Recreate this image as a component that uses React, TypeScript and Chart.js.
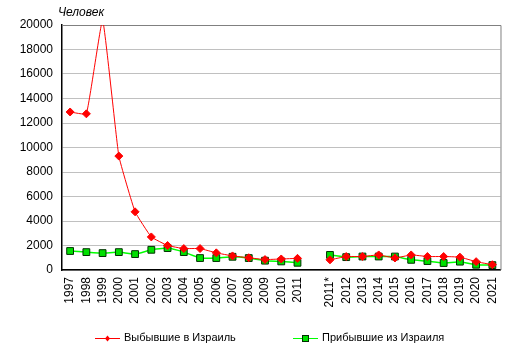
import React, { useEffect, useRef } from "react";
import { Chart, registerables } from "chart.js";

Chart.register(...registerables);

const categories = [
  "1997", "1998", "1999", "2000", "2001", "2002", "2003", "2004", "2005", "2006",
  "2007", "2008", "2009", "2010", "2011", "", "2011*", "2012", "2013", "2014",
  "2015", "2016", "2017", "2018", "2019", "2020", "2021",
];

const departedToIsrael = [
  12900, 12750, 20400, 9300, 4750, 2700, 2000, 1750, 1750, 1400,
  1150, 1000, 850, 900, 950, null, 830, 1100, 1100, 1230,
  980, 1230, 1100, 1100, 1050, 680, 430,
];

const arrivedFromIsrael = [
  1550, 1460, 1380, 1460, 1300, 1650, 1790, 1460, 975, 975,
  1080, 975, 760, 700, 590, null, 1230, 1050, 1100, 1100,
  1100, 830, 730, 570, 680, 430, 400,
];

const seriesNames = ["Выбывшие в Израиль", "Прибывшие из Израиля"];
const yTitle = "Человек";

const FONT = "'Liberation Sans', Arial, sans-serif";

const decorPlugin = {
  id: "decor",
  beforeDatasetsDraw(chart: any) {
    const { ctx, chartArea } = chart;
    ctx.save();
    ctx.strokeStyle = "#808080";
    ctx.lineWidth = 1;
    ctx.beginPath();
    ctx.moveTo(chartArea.left, chartArea.top + 0.5);
    ctx.lineTo(chartArea.right + 0.5, chartArea.top + 0.5);
    ctx.lineTo(chartArea.right + 0.5, chartArea.bottom);
    ctx.stroke();
    ctx.restore();
  },
  afterDraw(chart: any) {
    const { ctx, chartArea } = chart;
    ctx.save();
    ctx.fillStyle = "#000";
    ctx.font = `italic 12px ${FONT}`;
    ctx.textBaseline = "middle";
    ctx.textAlign = "left";
    ctx.fillText(yTitle, chartArea.left - 4, 13);

    const y = 338;
    const items = [
      { x: 95, ds: chart.data.datasets[0] },
      { x: 293, ds: chart.data.datasets[1] },
    ];
    items.forEach((it, i) => {
      const ds = it.ds;
      ctx.strokeStyle = ds.borderColor;
      ctx.lineWidth = 1;
      ctx.beginPath();
      ctx.moveTo(it.x, y + 0.5);
      ctx.lineTo(it.x + 25, y + 0.5);
      ctx.stroke();
      const cx = it.x + 12.5;
      ctx.fillStyle = ds.pointBackgroundColor;
      ctx.strokeStyle = ds.pointBorderColor;
      if (i === 0) {
        ctx.beginPath();
        ctx.moveTo(cx, y - 2.5);
        ctx.lineTo(cx + 2.5, y + 0.5);
        ctx.lineTo(cx, y + 3.5);
        ctx.lineTo(cx - 2.5, y + 0.5);
        ctx.closePath();
        ctx.fill();
      } else {
        ctx.fillRect(cx - 3, y - 2.5, 6, 6);
        ctx.strokeRect(cx - 3, y - 2.5, 6, 6);
      }
      ctx.fillStyle = "#000";
      ctx.font = `11px ${FONT}`;
      ctx.textAlign = "left";
      ctx.textBaseline = "middle";
      ctx.fillText(ds.label, it.x + 29, y);
    });
    ctx.restore();
  },
};

export default function App() {
  const ref = useRef<HTMLCanvasElement | null>(null);

  useEffect(() => {
    document.body.style.margin = "0";
    const canvas = ref.current;
    if (!canvas) return;
    const chart = new Chart(canvas, {
      type: "line",
      data: {
        labels: categories,
        datasets: [
          {
            label: seriesNames[0],
            data: departedToIsrael,
            borderColor: "#ff0000",
            backgroundColor: "#ff0000",
            borderWidth: 1,
            pointStyle: "rectRot",
            pointRadius: 4,
            pointBackgroundColor: "#ff0000",
            pointBorderColor: "#ff0000",
            pointBorderWidth: 1,
            tension: 0.1,
            clip: 0,
            spanGaps: false,
          },
          {
            label: seriesNames[1],
            data: arrivedFromIsrael,
            borderColor: "#00ff00",
            backgroundColor: "#00ff00",
            borderWidth: 1.5,
            pointStyle: "rect",
            pointRadius: 4.8,
            pointBackgroundColor: "#00e000",
            pointBorderColor: "#003000",
            pointBorderWidth: 1,
            tension: 0.1,
            spanGaps: false,
          },
        ],
      },
      options: {
        responsive: false,
        animation: false,
        layout: { padding: { left: 0, right: 12, top: 25, bottom: 0 } },
        plugins: {
          legend: { display: false },
          tooltip: { enabled: false },
        },
        scales: {
          x: {
            offset: true,
            grid: { display: false, drawTicks: false },
            border: { color: "#000", width: 1.5 },
            ticks: {
              autoSkip: false,
              minRotation: 90,
              maxRotation: 90,
              color: "#000",
              font: { family: FONT, size: 12 },
              padding: 7,
            },
            afterFit(scale: any) {
              scale.height = 86;
            },
          },
          y: {
            min: 0,
            max: 20000,
            grid: { color: "#c0c0c0", drawTicks: false },
            border: { color: "#000", width: 1.5 },
            ticks: {
              stepSize: 2000,
              color: "#000",
              font: { family: FONT, size: 12 },
              padding: 9,
              callback: (v: any) => String(v),
            },
            afterFit(scale: any) {
              scale.width = 62;
            },
          },
        },
      },
      plugins: [decorPlugin],
    });
    return () => chart.destroy();
  }, []);

  return <canvas ref={ref} width={514} height={356} style={{ display: "block" }} />;
}
